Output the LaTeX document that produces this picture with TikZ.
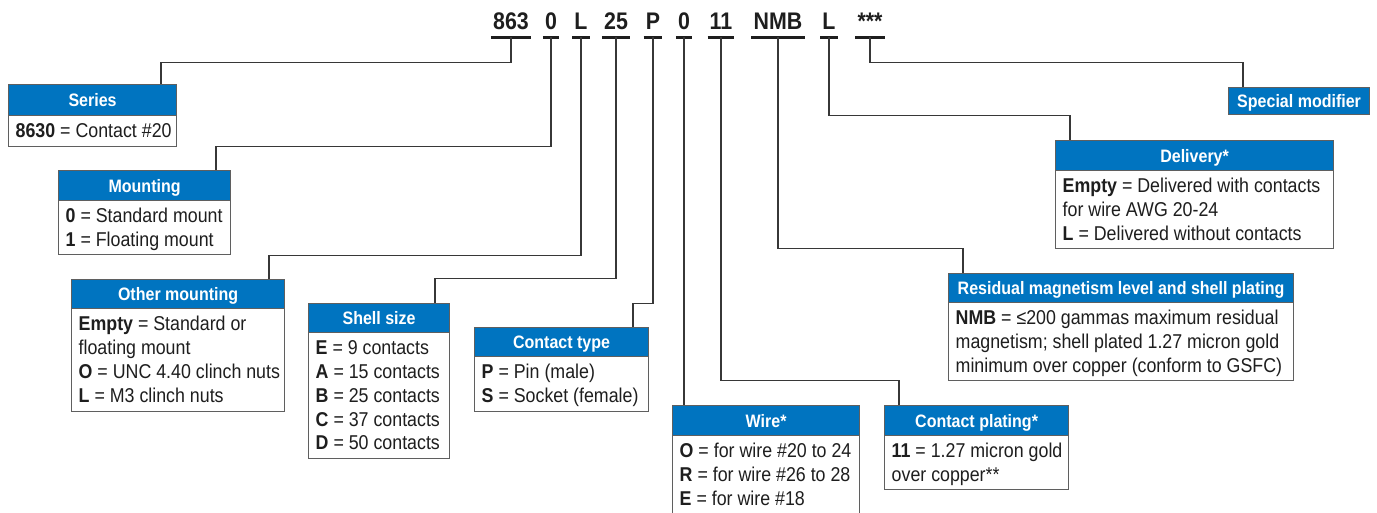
\documentclass[tikz,border=0pt]{standalone}
\usepackage{fontspec}
\setmainfont{Liberation Sans}[FakeStretch=0.89]
\definecolor{hblue}{RGB}{0,116,192}
\definecolor{bgray}{RGB}{95,95,95}
\definecolor{lgray}{RGB}{55,55,55}
\definecolor{tblack}{RGB}{30,30,30}
\tikzset{
  head/.style={draw=bgray, line width=1.2pt, fill=hblue, text=white,
    font=\fontsize{18}{20}\selectfont\bfseries, anchor=north west,
    inner sep=0pt, text height=13pt, text depth=0pt},
  bodybox/.style={draw=bgray, line width=1.2pt, fill=white, anchor=north west, inner sep=0pt},
  btext/.style={anchor=north west, inner sep=0pt, align=left, text=tblack,
    font=\fontsize{20}{23.8}\selectfont},
  code/.style={font=\fontsize{24}{26}\selectfont\bfseries, text=tblack, anchor=base,
    inner xsep=2pt, inner ysep=0pt, text height=17pt, text depth=7.5pt},
  uline/.style={draw=tblack, line width=2.6pt},
  conn/.style={draw=lgray, line width=1.2pt}
}
\newcommand{\fs}{\rule{0pt}{16pt}}
\begin{document}
\begin{tikzpicture}[x=1pt,y=-1pt]
\useasboundingbox (0,0) rectangle (1377,512);
\clip (0,0) rectangle (1377,512);

% code
\node[code] (c863) at (511,29.5) {863};
\node[code] (c0a) at (551,29.5) {0};
\node[code] (cLa) at (581,29.5) {L};
\node[code] (c25) at (616,29.5) {25};
\node[code] (cP) at (653,29.5) {P};
\node[code] (c0b) at (684,29.5) {0};
\node[code] (c11) at (721,29.5) {11};
\node[code] (cNMB) at (778,29.5) {NMB};
\node[code] (cLb) at (829,29.5) {L};
\node[code] (cst) at (870,29.5) {***};
\foreach \n in {c863,c0a,cLa,c25,cP,c0b,c11,cNMB,cLb,cst}
  \draw[uline] (\n.south west) -- (\n.south east);

% boxes
\node[head, minimum width=168pt, minimum height=31pt] (series) at (8,84) {Series};
\node[bodybox, minimum width=168pt, minimum height=31pt] (series-b) at (8,115) {};
\node[btext] (series-t) at (15.5,121.5) {\fs\textbf{8630} = Contact \#20};

\node[head, minimum width=172pt, minimum height=30pt] (mount) at (58,170) {Mounting};
\node[bodybox, minimum width=172pt, minimum height=54pt] (mount-b) at (58,200) {};
\node[btext] (mount-t) at (65.5,206.5) {\fs\textbf{0} = Standard mount\\\textbf{1} = Floating mount};

\node[head, minimum width=213pt, minimum height=29pt] (other) at (71,279) {Other mounting};
\node[bodybox, minimum width=213pt, minimum height=103pt] (other-b) at (71,308) {};
\node[btext] (other-t) at (78.5,314.5) {\fs\textbf{Empty} = Standard or\\floating mount\\\textbf{O} = UNC 4.40 clinch nuts\\\textbf{L} = M3 clinch nuts};

\node[head, minimum width=141pt, minimum height=29pt] (shell) at (308,303) {Shell size};
\node[bodybox, minimum width=141pt, minimum height=126pt] (shell-b) at (308,332) {};
\node[btext] (shell-t) at (315.5,338.5) {\fs\textbf{E} = 9 contacts\\\textbf{A} = 15 contacts\\\textbf{B} = 25 contacts\\\textbf{C} = 37 contacts\\\textbf{D} = 50 contacts};

\node[head, minimum width=174pt, minimum height=29pt] (ctype) at (474,327) {Contact type};
\node[bodybox, minimum width=174pt, minimum height=55pt] (ctype-b) at (474,356) {};
\node[btext] (ctype-t) at (481.5,362.5) {\fs\textbf{P} = Pin (male)\\\textbf{S} = Socket (female)};

\node[head, minimum width=187pt, minimum height=30pt] (wire) at (672,405) {Wire*};
\node[bodybox, minimum width=187pt, minimum height=100pt] (wire-b) at (672,435) {};
\node[btext] (wire-t) at (679.5,441.5) {\fs\textbf{O} = for wire \#20 to 24\\\textbf{R} = for wire \#26 to 28\\\textbf{E} = for wire \#18};

\node[head, minimum width=184pt, minimum height=30pt] (plating) at (884,405) {Contact plating*};
\node[bodybox, minimum width=184pt, minimum height=54pt] (plating-b) at (884,435) {};
\node[btext] (plating-t) at (891.5,441.5) {\fs\textbf{11} = 1.27 micron gold\\over copper**};

\node[head, minimum width=345pt, minimum height=29pt] (resid) at (948,273) {Residual magnetism level and shell plating};
\node[bodybox, minimum width=345pt, minimum height=78pt] (resid-b) at (948,302) {};
\node[btext] (resid-t) at (955.5,308.5) {\fs\textbf{NMB} = ≤200 gammas maximum residual\\magnetism; shell plated 1.27 micron gold\\minimum over copper (conform to GSFC)};

\node[head, minimum width=278pt, minimum height=30pt] (deliv) at (1055,140) {Delivery*};
\node[bodybox, minimum width=278pt, minimum height=78pt] (deliv-b) at (1055,170) {};
\node[btext] (deliv-t) at (1062.5,176.5) {\fs\textbf{Empty} = Delivered with contacts\\for wire AWG 20-24\\\textbf{L} = Delivered without contacts};

\node[head, minimum width=141pt, minimum height=27pt] (spec) at (1228,87) {Special modifier};

% connectors
\draw[conn] (c863.south) -- ++(0,25) -| ([xshift=153pt]series.north west);
\draw[conn] (c0a.south) -- ++(0,109) -| ([xshift=158pt]mount.north west);
\draw[conn] (cLa.south) -- ++(0,218) -| ([xshift=198pt]other.north west);
\draw[conn] (c25.south) -- ++(0,241) -| ([xshift=127pt]shell.north west);
\draw[conn] (cP.south) -- ++(0,266) -| ([xshift=159pt]ctype.north west);
\draw[conn] (c0b.south) -- (c0b.south |- wire.north);
\draw[conn] (c11.south) -- ++(0,343) -| ([xshift=15pt]plating.north west);
\draw[conn] (cNMB.south) -- ++(0,211) -| ([xshift=15pt]resid.north west);
\draw[conn] (cLb.south) -- ++(0,78) -| ([xshift=15pt]deliv.north west);
\draw[conn] (cst.south) -- ++(0,25) -| ([xshift=15pt]spec.north west);
\end{tikzpicture}
\end{document}
